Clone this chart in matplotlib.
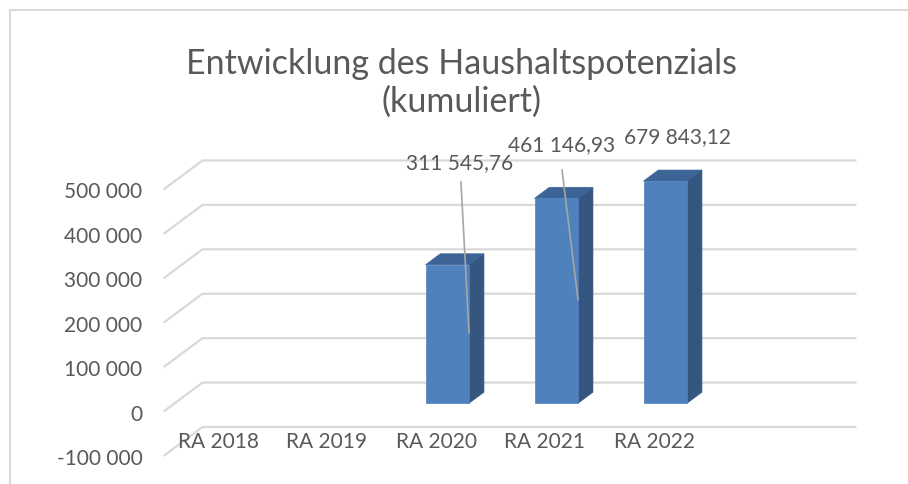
import matplotlib
matplotlib.use("Agg")
import matplotlib.pyplot as plt
from matplotlib.patches import Polygon, Rectangle

plt.rcParams['font.family'] = ['Lato', 'DejaVu Sans']

# ---- data ----
categories = ["RA 2018", "RA 2019", "RA 2020", "RA 2021", "RA 2022"]
values = [0, 0, 311545.76, 461146.93, 679843.12]
value_labels = ["", "", "311 545,76", "461 146,93", "679 843,12"]
y_ticks = [-100000, 0, 100000, 200000, 300000, 400000, 500000]
y_tick_labels = ["-100 000", "0", "100 000", "200 000", "300 000", "400 000", "500 000"]
title = "Entwicklung des Haushaltspotenzials\n(kumuliert)"

# ---- styling / geometry ----
W, H, DPI = 908, 484, 100
n_slots = 6
ymin, ymax = -100000, 500000
TEXT = "#595959"
GRID = "#D9D9D9"
FRONT = "#4F81BD"
SIDE = "#35567F"
TOP = "#3C6496"
FS = 15

fig = plt.figure(figsize=(W / DPI, H / DPI), dpi=DPI)
# chart-area border
fig.patches.append(Rectangle((10 / W, -0.1), 2, 1.1 - 10 / H, transform=fig.transFigure,
                             fill=False, edgecolor=GRID, lw=1.5, zorder=0))

left_px, right_px = 163.5, 163.5 + 6 * 109
top_px, bot_px = 189.5, 456
ax = fig.add_axes([left_px / W, (H - bot_px) / H, (right_px - left_px) / W, (bot_px - top_px) / H])
ax.set_xlim(-0.5, n_slots - 0.5)
ax.set_ylim(ymin, ymax)
ax.axis("off")

px_x = (right_px - left_px) / n_slots          # px per category
px_y = (bot_px - top_px) / (ymax - ymin)       # px per value unit
DX = 39 / px_x                                  # depth offset in category units
DY = 29 / px_y                                  # depth offset in value units

# gridlines (3D wall + floor projection)
for v in y_ticks:
    xs = [-0.5, -0.5 + DX, n_slots - 0.5 + DX]
    ys = [v, v + DY, v + DY]
    ax.plot(xs, ys, color=GRID, lw=1.6, clip_on=False, zorder=1, solid_capstyle="butt")

# y tick labels
for v, lab in zip(y_ticks, y_tick_labels):
    ax.text(-0.5 - 21 / px_x, v - 3 / px_y, lab, ha="right", va="center", fontsize=FS,
            color=TEXT, clip_on=False)

# category labels
for i, lab in enumerate(categories):
    ax.text(i, -67500, lab, ha="center", va="center", fontsize=FS, color=TEXT, clip_on=False)

# bars
bw = 0.40
f = 0.29   # front depth fraction
b = 0.38   # bar depth fraction
for i, v in enumerate(values):
    if v == 0:
        continue
    top = min(v, ymax)
    x0 = i - bw / 2 + f * DX
    x1 = i + bw / 2 + f * DX
    y0 = f * DY
    y1 = top + f * DY
    ax.add_patch(Polygon([(x1, y0), (x1 + b * DX, y0 + b * DY), (x1 + b * DX, y1 + b * DY), (x1, y1)],
                         closed=True, facecolor=SIDE, edgecolor=SIDE, lw=0.5, clip_on=False, zorder=3))
    ax.add_patch(Polygon([(x0, y1), (x1, y1), (x1 + b * DX, y1 + b * DY), (x0 + b * DX, y1 + b * DY)],
                         closed=True, facecolor=TOP, edgecolor=TOP, lw=0.5, clip_on=False, zorder=3))
    ax.add_patch(Polygon([(x0, y0), (x1, y0), (x1, y1), (x0, y1)],
                         closed=True, facecolor=FRONT, edgecolor=FRONT, lw=0.5, clip_on=False, zorder=4))

# data labels with leader lines (positions relative to category)
label_pos = {2: (0.22, 559500), 3: (0.156, 600000), 4: (0.22, 618000)}
leaders = {2: ((0.229, 516800), (0.303, 177500)), 3: ((0.156, 543800), (0.303, 251700))}
for i, lab in enumerate(value_labels):
    if not lab:
        continue
    dx, yy = label_pos[i]
    ax.text(i + dx, yy, lab, ha="center", va="center", fontsize=FS, color=TEXT, clip_on=False, zorder=6)
    if i in leaders:
        (a, ya), (c, yc) = leaders[i]
        ax.plot([i + a, i + c], [ya, yc], color="#A6A6A6", lw=1.2, clip_on=False, zorder=5)

fig.text(462 / W, 1 - 83 / H, title, ha="center", va="center", fontsize=24.5, color=TEXT,
         linespacing=1.22)

fig.savefig("out.png", dpi=DPI)
